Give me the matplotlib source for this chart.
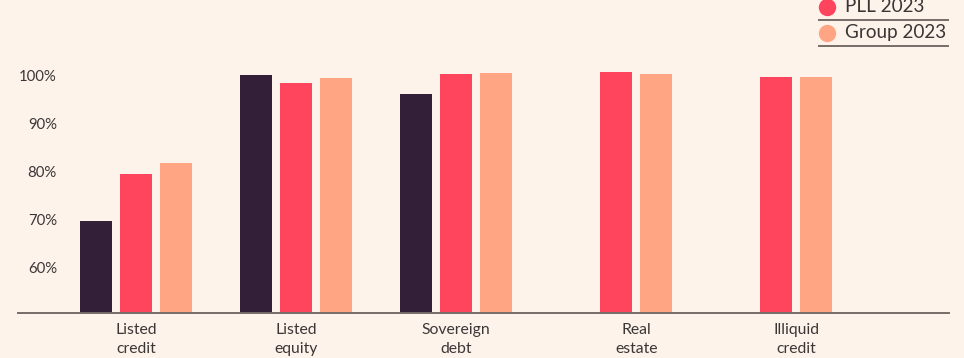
import matplotlib
matplotlib.use("Agg")
import matplotlib.pyplot as plt
from matplotlib.lines import Line2D
import numpy as np

categories = ["Listed\ncredit", "Listed\nequity", "Sovereign\ndebt", "Real\nestate", "Illiquid\ncredit"]
series_names = ["PLL 2022", "PLL 2023", "Group 2023"]
dark_values = [69.8, 100.2, 96.3, None, None]
pll_2023 = [79.6, 98.5, 100.4, 100.8, 99.8]
group_2023 = [81.9, 99.6, 100.6, 100.4, 99.8]
y_ticks = [60, 70, 80, 90, 100]
y_tick_labels = ["60%", "70%", "80%", "90%", "100%"]

BG = "#fdf3eb"
COLORS = ["#331f38", "#ff455e", "#ffa584"]
TEXT = "#3b3636"
LINE = "#766d69"

W, H, DPI = 964, 358, 100
plt.rcParams['font.family'] = ['Lato', 'DejaVu Sans']
fig = plt.figure(figsize=(W / DPI, H / DPI), dpi=DPI, facecolor=BG)

def px2fig(x, y):
    return x / W, 1 - y / H

ax_left, ax_right, ax_top, ax_bottom = 18, 949, 20, 313
ax = fig.add_axes([ax_left / W, (H - ax_bottom) / H, (ax_right - ax_left) / W, (ax_bottom - ax_top) / H])
ax.set_facecolor(BG)

x = np.arange(len(categories))
width = 0.2
offsets = [-0.25, 0.0, 0.25]
all_series = [dark_values, pll_2023, group_2023]
for s, (vals, off) in enumerate(zip(all_series, offsets)):
    xs = [xi + off for xi, v in zip(x, vals) if v is not None]
    vs = [v for v in vals if v is not None]
    ax.bar(xs, vs, width=width, color=COLORS[s], zorder=2)

# label positions: centred on the bars present in each group
label_pos = []
for i in range(len(categories)):
    present = [x[i] + off for vals, off in zip(all_series, offsets) if vals[i] is not None]
    label_pos.append((min(present) + max(present)) / 2)

ax.set_xlim(-0.7375, 5.08)
ax.set_ylim(50.6, 111.67)
ax.set_xticks(label_pos)
ax.set_xticklabels(categories, fontsize=11.3, color=TEXT, linespacing=1.38)
ax.set_yticks(y_ticks)
ax.set_yticklabels(y_tick_labels, fontsize=10.7, color=TEXT)
ax.tick_params(axis='x', length=0, pad=7.5)
ax.tick_params(axis='y', length=0, pad=-28)
for sp in ["top", "right", "left"]:
    ax.spines[sp].set_visible(False)
ax.spines["bottom"].set_color(LINE)
ax.spines["bottom"].set_linewidth(1.4)

# legend (top right, partly cropped)
legend_items = [(series_names[1], COLORS[1], 7), (series_names[2], COLORS[2], 32.5)]
for name, col, yc in legend_items:
    mx, my = px2fig(827, yc)
    fig.add_artist(Line2D([mx], [my], marker='o', markersize=11.5, color=col, linestyle='none',
                          transform=fig.transFigure))
    tx, ty = px2fig(845, yc)
    fig.text(tx, ty, name, fontsize=13.6, color=TEXT, va='center', ha='left')
    lx0, ly = px2fig(819, yc + 13)
    lx1, _ = px2fig(948, yc + 13)
    fig.add_artist(Line2D([lx0, lx1], [ly, ly], color=LINE, linewidth=1.4, transform=fig.transFigure))

fig.savefig("out.png", dpi=DPI, facecolor=BG)
